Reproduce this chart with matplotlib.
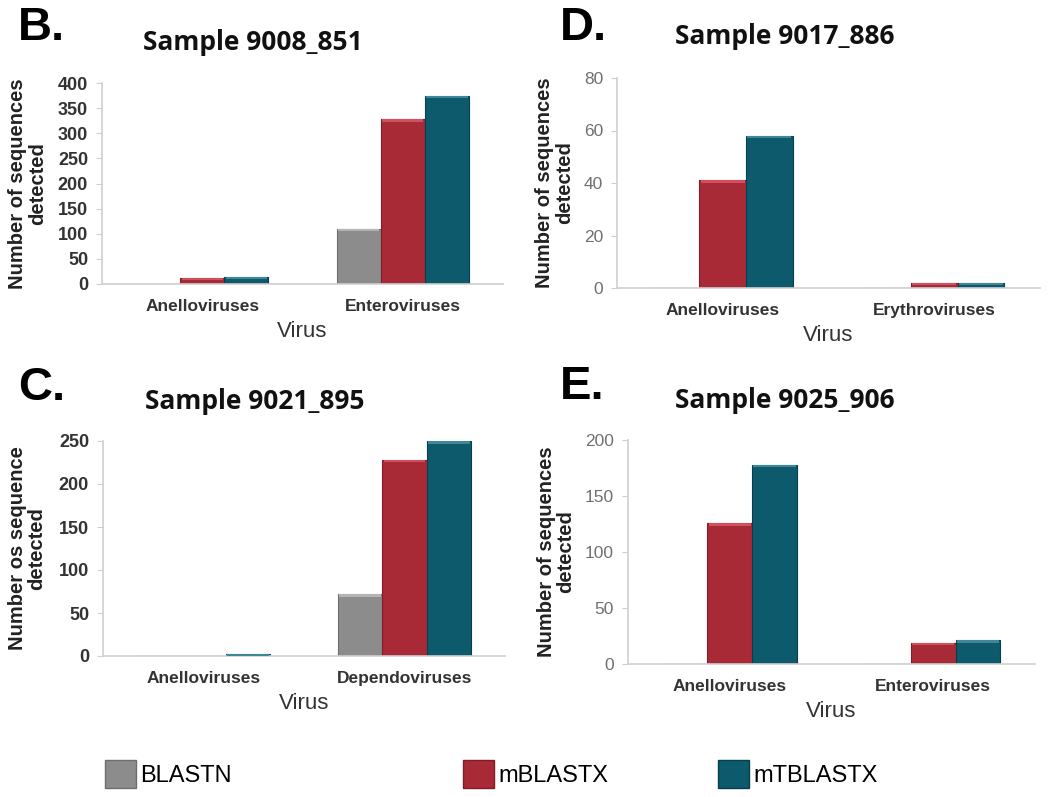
import matplotlib
matplotlib.use("Agg")
import matplotlib.pyplot as plt
import numpy as np
from matplotlib.patches import Patch

# data
methods = ["BLASTN", "mBLASTX", "mTBLASTX"]
colors = ["#8c8c8c", "#a82a37", "#0c5a6c"]
edges = ["#6e6e6e", "#7e1c27", "#073f4c"]
tops = ["#b4b4b4", "#d0505c", "#3f8797"]

cats_b = ["Anelloviruses", "Enteroviruses"]
vals_b = [[0, 110], [12, 328], [14, 374]]

cats_d = ["Anelloviruses", "Erythroviruses"]
vals_d = [[0, 0], [41, 2], [58, 2]]

cats_c = ["Anelloviruses", "Dependoviruses"]
vals_c = [[0, 72], [0, 228], [2, 250]]

cats_e = ["Anelloviruses", "Enteroviruses"]
vals_e = [[0, 0], [126, 19], [178, 21]]

W, H = 1050, 797
fig = plt.figure(figsize=(W / 100, H / 100), dpi=100)


def px(l, t, r, b):
    return [l / W, 1 - b / H, (r - l) / W, (b - t) / H]


def panel(rect, title, tpos, cats, vals, ymax, step, ylabel, bold, ylpad):
    ax = fig.add_axes(px(*rect))
    x = np.arange(len(cats))
    w = 0.22
    band = ymax * 0.012
    for i, v in enumerate(vals):
        v = np.array(v, dtype=float)
        ax.bar(x + (i - 1) * w, v, w, color=colors[i], edgecolor=edges[i],
               linewidth=0.8, zorder=2)
        # glossy top edge
        h = np.minimum(v, band)
        ax.bar(x + (i - 1) * w, h, w * 0.94, bottom=v - h, color=tops[i],
               linewidth=0, zorder=3)
    ax.set_xlim(-0.5, len(cats) - 0.5)
    ax.set_ylim(0, ymax)
    ax.set_yticks(np.arange(0, ymax + 1, step))
    ax.set_xticks(x)
    ax.set_xticklabels(cats, fontsize=12.5, fontweight="bold", color="#333333",
                       family="Liberation Sans")
    for s in ["top", "right"]:
        ax.spines[s].set_visible(False)
    for s in ["left", "bottom"]:
        ax.spines[s].set_color("#cfcfcf")
        ax.spines[s].set_linewidth(1.2)
    ax.tick_params(axis="x", length=0, pad=11)
    ax.tick_params(axis="y", length=4, color="#cfcfcf", pad=6)
    for t in ax.get_yticklabels():
        t.set_family("Liberation Sans")
        if bold:
            t.set_fontsize(13)
            t.set_fontweight("bold")
            t.set_color("#333333")
        else:
            t.set_fontsize(12.5)
            t.set_color("#707070")
    ax.set_ylabel(ylabel, fontsize=14.5, fontweight="bold", color="#222222",
                  family="Liberation Sans", labelpad=ylpad, linespacing=1.05)
    ax.set_xlabel("Virus", fontsize=16, color="#333333", family="Liberation Sans",
                  labelpad=5)
    fig.text(tpos[0] / W, 1 - tpos[1] / H, title, fontsize=19, fontweight="bold",
             family="Open Sans", color="#111111", ha="center", va="center")
    return ax


panel((102, 83, 503, 284), "Sample 9008_851", (253, 43), cats_b, vals_b, 400, 50,
      "Number of sequences\ndetected", True, 8)
panel((617, 78, 1040, 288), "Sample 9017_886", (785, 37), cats_d, vals_d, 80, 20,
      "Number of sequences\ndetected", False, 7)
panel((103, 441, 505, 656), "Sample 9021_895", (255, 402), cats_c, vals_c, 250, 50,
      "Number os sequence\ndetected", True, 9)
panel((628, 440, 1035, 664), "Sample 9025_906", (785, 400), cats_e, vals_e, 200, 50,
      "Number of sequences\ndetected", False, 7)

# panel letters
for lx, ly, s in [(18, 28, "B."), (560, 28, "D."), (18, 388, "C."), (560, 387, "E.")]:
    fig.text(lx / W, 1 - ly / H, s, fontsize=34, fontweight="bold",
             family="Liberation Sans", va="center", ha="left")

# legend along the bottom
for i, (lx, name) in enumerate(zip([105, 463, 718], methods)):
    fig.legend(handles=[Patch(facecolor=colors[i], edgecolor=edges[i], label=name)],
               loc="center left", bbox_to_anchor=(lx / W, 1 - 774 / H),
               frameon=False, borderpad=0, borderaxespad=0,
               handlelength=1.3, handleheight=1.5,
               handletextpad=0.2, prop={"family": "Liberation Sans", "size": 17})

fig.savefig("out.png", dpi=100)
